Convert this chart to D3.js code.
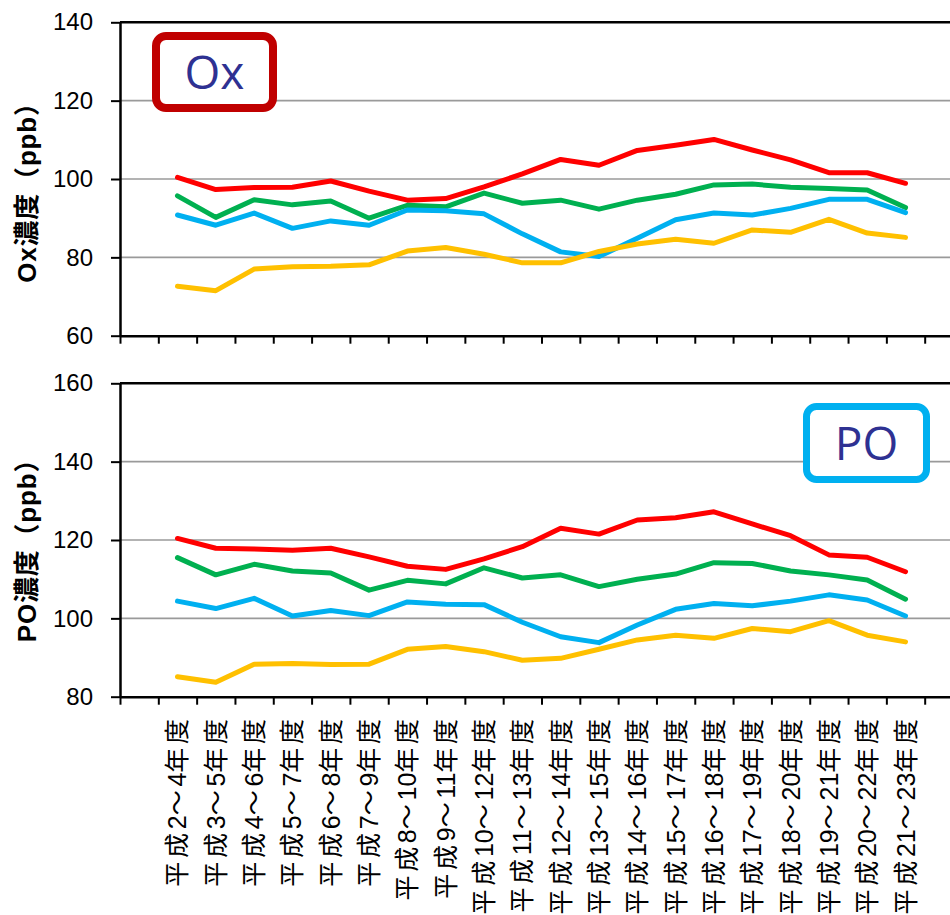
<!DOCTYPE html>
<html lang="ja">
<head>
<meta charset="utf-8">
<title>Ox / PO</title>
<script src="https://cdn.jsdelivr.net/npm/d3@7"></script>
<style>
  body { margin: 0; background: #fff; }
  svg { display: block; }
  .tick text { font-family: "Liberation Sans", Arial, sans-serif; }
</style>
</head>
<body>
<script>
// categories (3-year periods)
var periods = ["平成2～4年度","平成3～5年度","平成4～6年度","平成5～7年度","平成6～8年度",
  "平成7～9年度","平成8～10年度","平成9～11年度","平成10～12年度","平成11～13年度",
  "平成12～14年度","平成13～15年度","平成14～16年度","平成15～17年度","平成16～18年度",
  "平成17～19年度","平成18～20年度","平成19～21年度","平成20～22年度","平成21～23年度"];

// Ox concentration (ppb)
var oxRed    = [100.4, 97.3, 97.8, 97.9, 99.5, 96.9, 94.6, 95.0, 98.0, 101.3, 105.0, 103.5, 107.3, 108.6, 110.1, 107.4, 104.9, 101.6, 101.6, 98.9];
var oxGreen  = [95.7, 90.2, 94.7, 93.4, 94.4, 90.0, 93.3, 92.9, 96.4, 93.8, 94.6, 92.3, 94.6, 96.1, 98.5, 98.7, 97.9, 97.6, 97.2, 92.7];
var oxBlue   = [90.8, 88.2, 91.3, 87.4, 89.3, 88.2, 92.1, 91.9, 91.1, 86.0, 81.4, 80.2, 84.9, 89.6, 91.3, 90.8, 92.5, 94.8, 94.8, 91.4];
var oxYellow = [72.6, 71.5, 77.0, 77.6, 77.7, 78.1, 81.6, 82.5, 80.8, 78.6, 78.6, 81.5, 83.4, 84.6, 83.6, 87.0, 86.4, 89.7, 86.2, 85.1];

// PO concentration (ppb)
var poRed    = [120.4, 117.9, 117.7, 117.4, 117.9, 115.7, 113.3, 112.5, 115.2, 118.3, 123.0, 121.5, 125.1, 125.7, 127.2, 124.1, 121.1, 116.2, 115.6, 111.9];
var poGreen  = [115.5, 111.1, 113.8, 112.1, 111.6, 107.2, 109.7, 108.8, 112.9, 110.3, 111.1, 108.1, 110.0, 111.3, 114.2, 114.0, 112.1, 111.1, 109.8, 104.9];
var poBlue   = [104.4, 102.5, 105.1, 100.6, 102.0, 100.7, 104.2, 103.6, 103.5, 99.0, 95.3, 93.8, 98.3, 102.3, 103.8, 103.2, 104.4, 106.0, 104.7, 100.6];
var poYellow = [85.1, 83.7, 88.3, 88.5, 88.2, 88.3, 92.1, 92.8, 91.5, 89.3, 89.8, 92.1, 94.5, 95.7, 94.9, 97.4, 96.6, 99.4, 95.7, 94.0];

var oxTicks = [60, 80, 100, 120, 140];
var poTicks = [80, 100, 120, 140, 160];

var colors = ["#ff0000", "#00b050", "#00b0f0", "#ffc000"];

var w = 950, h = 915;
var left = 120, right = 963;   // plot runs past the right edge (cropped)

var svg = d3.select("body").append("svg")
  .attr("width", w)
  .attr("height", h);

// 22 slots: one empty slot either side of the 20 periods
var slots = ["_a"].concat(periods, ["_b"]);
var xBand = d3.scaleBand().domain(slots).range([left, right]);
var xEdge = d3.scaleLinear().domain([0, slots.length]).range([left, right]);

function drawPanel(top, bottom, ticks, seriesList, title, titleY) {
  var y = d3.scaleLinear()
    .domain([ticks[0], ticks[ticks.length - 1]])
    .range([bottom, top]);

  var g = svg.append("g");

  // grid lines
  g.selectAll("line.grid")
    .data(ticks.slice(1, -1))
    .enter().append("line")
    .attr("class", "grid")
    .attr("x1", left).attr("x2", w)
    .attr("y1", function(d) { return y(d); })
    .attr("y2", function(d) { return y(d); })
    .attr("stroke", "#9a9a9a")
    .attr("stroke-width", 1.6);

  // top border
  g.append("line")
    .attr("x1", left).attr("x2", w)
    .attr("y1", y(ticks[ticks.length - 1])).attr("y2", y(ticks[ticks.length - 1]))
    .attr("stroke", "#000").attr("stroke-width", 2.5);

  // x axis
  var xAxis = d3.axisBottom(xEdge)
    .tickValues(d3.range(0, slots.length + 1))
    .tickFormat("")
    .tickSizeInner(8)
    .tickSizeOuter(0);
  var gx = g.append("g")
    .attr("transform", "translate(0," + bottom + ")")
    .call(xAxis);
  gx.select(".domain").attr("stroke", "#000").attr("stroke-width", 2.5);
  gx.selectAll(".tick line").attr("stroke", "#000").attr("stroke-width", 2);

  // y axis
  var yAxis = d3.axisLeft(y)
    .tickValues(ticks)
    .tickSizeInner(9)
    .tickSizeOuter(0)
    .tickPadding(18);
  var gy = g.append("g")
    .attr("transform", "translate(" + left + ",0)")
    .call(yAxis);
  gy.select(".domain").attr("stroke", "#000").attr("stroke-width", 2.5);
  gy.selectAll(".tick line").attr("stroke", "#000").attr("stroke-width", 2);
  gy.selectAll(".tick text")
    .attr("fill", "#000")
    .style("font-size", "24px");

  // y title
  g.append("text")
    .attr("transform", "translate(27," + titleY + ") rotate(-90)")
    .attr("text-anchor", "middle")
    .attr("dominant-baseline", "central")
    .style("font-family", "'Liberation Sans', 'Noto Sans CJK JP', sans-serif")
    .style("font-weight", "bold")
    .style("font-size", "26px")
    .style("letter-spacing", "0.8px")
    .text(title);

  // lines
  var line = d3.line()
    .x(function(d, i) { return xBand(periods[i]) + xBand.bandwidth() / 2; })
    .y(function(d) { return y(d); });

  g.selectAll("path.series")
    .data(seriesList)
    .enter().append("path")
    .attr("class", "series")
    .attr("d", line)
    .attr("fill", "none")
    .attr("stroke", function(d, i) { return colors[i]; })
    .attr("stroke-width", 5)
    .attr("stroke-linejoin", "round")
    .attr("stroke-linecap", "round");

  return g;
}

drawPanel(22.3, 335.7, oxTicks, [oxRed, oxGreen, oxBlue, oxYellow], "Ox濃度（ppb）", 186);
drawPanel(383.3, 696.7, poTicks, [poRed, poGreen, poBlue, poYellow], "PO濃度（ppb）", 544);

// label boxes
function labelBox(x, yy, bw, bh, stroke, sw, label) {
  svg.append("rect")
    .attr("x", x).attr("y", yy)
    .attr("width", bw).attr("height", bh)
    .attr("rx", 10).attr("ry", 10)
    .attr("fill", "#fff")
    .attr("stroke", stroke)
    .attr("stroke-width", sw);
  svg.append("text")
    .attr("x", x + bw / 2)
    .attr("y", yy + bh / 2 + 17)
    .attr("text-anchor", "middle")
    .attr("fill", "#2e3192")
    .style("font-family", "'Open Sans', sans-serif")
    .style("font-size", "46px")
    .text(label);
}
labelBox(156, 36, 117, 72, "#c00000", 8, "Ox");
labelBox(806.5, 406.5, 120, 73, "#00b0f0", 7, "PO");

// x category labels (vertical); CJK characters get a little extra spacing
var cjkGap = 3.7;
var cats = svg.selectAll("text.cat")
  .data(periods)
  .enter().append("text")
  .attr("class", "cat")
  .attr("transform", function(d) {
    return "translate(" + (xBand(d) + xBand.bandwidth() / 2) + "," + (719 - cjkGap) + ") rotate(-90)";
  })
  .attr("text-anchor", "end")
  .attr("dominant-baseline", "central")
  .style("font-family", "'Liberation Sans', 'Noto Sans CJK JP', sans-serif")
  .style("font-size", "25px");

cats.selectAll("tspan")
  .data(function(d) { return d.match(/[0-9]+|[^0-9]+/g); })
  .enter().append("tspan")
  .style("letter-spacing", function(d) { return (/[0-9]/.test(d) ? 0 : cjkGap) + "px"; })
  .text(function(d) { return d; });
</script>
</body>
</html>
